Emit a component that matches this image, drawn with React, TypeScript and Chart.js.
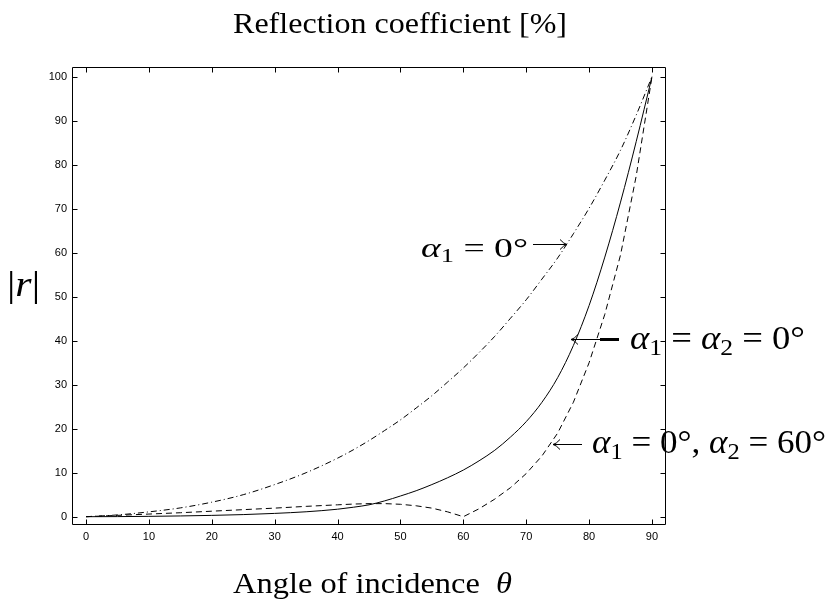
import React, { useEffect, useRef } from 'react';
import { Chart, registerables } from 'chart.js';

Chart.register(...registerables);

// ---- data ----
const angles = [0, 5, 10, 15, 20, 25, 30, 35, 40, 42.5, 45, 47.5, 50, 52.5, 55, 57.5, 60, 62.5, 65, 67.5, 70, 72.5, 75, 77.5, 80, 82.5, 85, 87.5, 90];
// α1 = α2 = 0°  (solid)
const rBothZero = [0, 0.02, 0.08, 0.17, 0.3, 0.48, 0.75, 1.12, 1.7, 2.15, 2.7, 3.6, 4.7, 5.9, 7.3, 8.85, 10.6, 12.7, 15.1, 18.1, 21.6, 26.0, 31.6, 38.9, 48.0, 59.0, 71.5, 85.3, 100];
// α1 = 0°, α2 = 60°  (dashed)
const rAlpha2Sixty = [0, 0.3, 0.6, 0.9, 1.25, 1.6, 1.95, 2.35, 2.7, 2.87, 2.97, 2.97, 2.82, 2.48, 1.95, 1.1, 0, 1.8, 4.0, 6.6, 9.8, 13.8, 19.0, 26.0, 35.0, 46.0, 59.5, 77.5, 100];
// α1 = 0°  (dash-dot)
const rAlpha1Zero = [0, 0.4, 1.1, 2.0, 3.3, 5.0, 7.3, 10.0, 13.3, 15.2, 17.3, 19.6, 22.0, 24.7, 27.5, 30.6, 33.8, 37.3, 41.0, 45.1, 49.3, 54.0, 58.8, 64.3, 70.1, 76.5, 83.3, 91.3, 100];

const xTickValues = [0, 10, 20, 30, 40, 50, 60, 70, 80, 90];
const yTickValues = [0, 10, 20, 30, 40, 50, 60, 70, 80, 90, 100];

const titleText = 'Reflection coefficient [%]';
const xLabelText = 'Angle of incidence';
const xLabelSymbol = 'θ';
const yLabelSymbol = 'r';

type Run = { t: string; it?: boolean; sub?: boolean };

const ann1: Run[] = [{ t: 'α', it: true }, { t: '1', sub: true }, { t: ' = 0°' }];
const ann2: Run[] = [{ t: 'α', it: true }, { t: '1', sub: true }, { t: ' = ' }, { t: 'α', it: true }, { t: '2', sub: true }, { t: ' = 0°' }];
const ann3: Run[] = [{ t: 'α', it: true }, { t: '1', sub: true }, { t: ' = 0°, ' }, { t: 'α', it: true }, { t: '2', sub: true }, { t: ' = 60°' }];

const SERIF = '"Liberation Serif", "DejaVu Serif", serif';

function setFont(ctx: CanvasRenderingContext2D, r: Run, size: number) {
  const s = r.sub ? size * 0.7 : size;
  ctx.font = `${r.it ? 'italic ' : ''}${s}px ${SERIF}`;
}

function runsWidth(ctx: CanvasRenderingContext2D, runs: Run[], size: number) {
  let w = 0;
  for (const r of runs) {
    setFont(ctx, r, size);
    w += ctx.measureText(r.t).width;
  }
  return w;
}

function drawFitted(ctx: CanvasRenderingContext2D, runs: Run[], x: number, base: number, size: number, targetW: number) {
  const w = runsWidth(ctx, runs, size);
  const sx = targetW / w;
  ctx.save();
  ctx.translate(x, base);
  ctx.scale(sx, 1);
  let cx = 0;
  for (const r of runs) {
    setFont(ctx, r, size);
    ctx.fillText(r.t, cx, r.sub ? size * 0.17 : 0);
    cx += ctx.measureText(r.t).width;
  }
  ctx.restore();
}

function arrow(ctx: CanvasRenderingContext2D, tail: number, tip: number, y: number) {
  const d = Math.sign(tip - tail);
  ctx.beginPath();
  ctx.moveTo(tail, y);
  ctx.lineTo(tip, y);
  ctx.moveTo(tip - d * 7, y - 5);
  ctx.quadraticCurveTo(tip - d * 3, y - 0.5, tip, y);
  ctx.moveTo(tip - d * 7, y + 5);
  ctx.quadraticCurveTo(tip - d * 3, y + 0.5, tip, y);
  ctx.stroke();
}

const decorPlugin = {
  id: 'decor',
  afterDraw(chart: any) {
    const { ctx, chartArea: a } = chart;
    const xs = chart.scales.x;
    const ys = chart.scales.y;
    ctx.save();
    ctx.strokeStyle = '#000';
    ctx.lineWidth = 1;
    const L = a.left + 0.5, R = a.right + 0.5, T = a.top + 0.5, B = a.bottom + 0.5;
    ctx.beginPath();
    ctx.rect(L, T, R - L, B - T);
    ctx.stroke();
    const tl = 5;
    ctx.beginPath();
    for (const v of xTickValues) {
      const p = Math.round(xs.getPixelForValue(v)) + 0.5;
      ctx.moveTo(p, B); ctx.lineTo(p, B - tl);
      ctx.moveTo(p, T); ctx.lineTo(p, T + tl);
    }
    for (const v of yTickValues) {
      const p = Math.round(ys.getPixelForValue(v)) + 0.5;
      ctx.moveTo(L, p); ctx.lineTo(L + tl, p);
      ctx.moveTo(R, p); ctx.lineTo(R - tl, p);
    }
    ctx.stroke();

    ctx.fillStyle = '#000';
    ctx.textAlign = 'left';
    ctx.textBaseline = 'alphabetic';
    drawFitted(ctx, [{ t: titleText }], 233, 33, 30, 334);
    drawFitted(ctx, [{ t: xLabelText + '  ' }, { t: xLabelSymbol, it: true }], 233, 593, 30, 279);
    drawFitted(ctx, [{ t: '|' }, { t: yLabelSymbol, it: true }, { t: '|' }], 7, 296, 35, 33);

    drawFitted(ctx, ann1, 421, 257, 28, 107);
    arrow(ctx, 533, 567, 244.5);

    arrow(ctx, 618, 571, 339.5);
    ctx.save();
    ctx.lineWidth = 3;
    ctx.beginPath();
    ctx.moveTo(600, 339.5);
    ctx.lineTo(619, 339.5);
    ctx.stroke();
    ctx.restore();
    drawFitted(ctx, ann2, 630, 349, 33, 175);

    arrow(ctx, 582, 553, 444.5);
    drawFitted(ctx, ann3, 592, 453, 33, 234);
    ctx.restore();
  },
};

const tickFont = { family: '"Liberation Sans", Arial, sans-serif', size: 11 };

export default function App() {
  const ref = useRef<HTMLCanvasElement>(null);
  useEffect(() => {
    const mk = (ys: number[]) => angles.map((a, i) => ({ x: a, y: ys[i] }));
    const chart = new Chart(ref.current as HTMLCanvasElement, {
      type: 'line',
      data: {
        datasets: [
          { label: 'a1=a2=0', data: mk(rBothZero), borderColor: '#000', borderWidth: 1, pointRadius: 0, cubicInterpolationMode: 'monotone', fill: false },
          { label: 'a1=0,a2=60', data: mk(rAlpha2Sixty), borderColor: '#000', borderWidth: 1, pointRadius: 0, tension: 0, borderDash: [6, 4], fill: false },
          { label: 'a1=0', data: mk(rAlpha1Zero), borderColor: '#000', borderWidth: 1, pointRadius: 0, cubicInterpolationMode: 'monotone', borderDash: [6, 3, 1, 3], fill: false },
        ],
      } as any,
      options: {
        responsive: false,
        animation: false,
        devicePixelRatio: 1,
        layout: { padding: { left: 0, top: 67, right: 163, bottom: 47 } },
        plugins: { legend: { display: false }, tooltip: { enabled: false }, title: { display: false } },
        scales: {
          x: {
            type: 'linear',
            min: -2.23,
            max: 92.07,
            grid: { display: false, drawTicks: false },
            border: { display: false },
            ticks: { font: tickFont, color: '#000', padding: 6, autoSkip: false, maxRotation: 0 },
            afterBuildTicks: (s: any) => { s.ticks = xTickValues.map((v) => ({ value: v })); },
            afterFit: (s: any) => { s.height = 30; },
          },
          y: {
            type: 'linear',
            min: -1.66,
            max: 102.2,
            grid: { display: false, drawTicks: false },
            border: { display: false },
            ticks: { font: tickFont, color: '#000', padding: 5, autoSkip: false },
            afterBuildTicks: (s: any) => { s.ticks = yTickValues.map((v) => ({ value: v })); },
            afterFit: (s: any) => { s.width = 72; },
          },
        },
      } as any,
      plugins: [decorPlugin],
    });
    return () => chart.destroy();
  }, []);
  return (
    <div style={{ position: 'fixed', left: 0, top: 0, width: 828, height: 601, background: '#fff' }}>
      <canvas ref={ref} width={828} height={601} style={{ width: 828, height: 601, display: 'block' }} />
    </div>
  );
}
